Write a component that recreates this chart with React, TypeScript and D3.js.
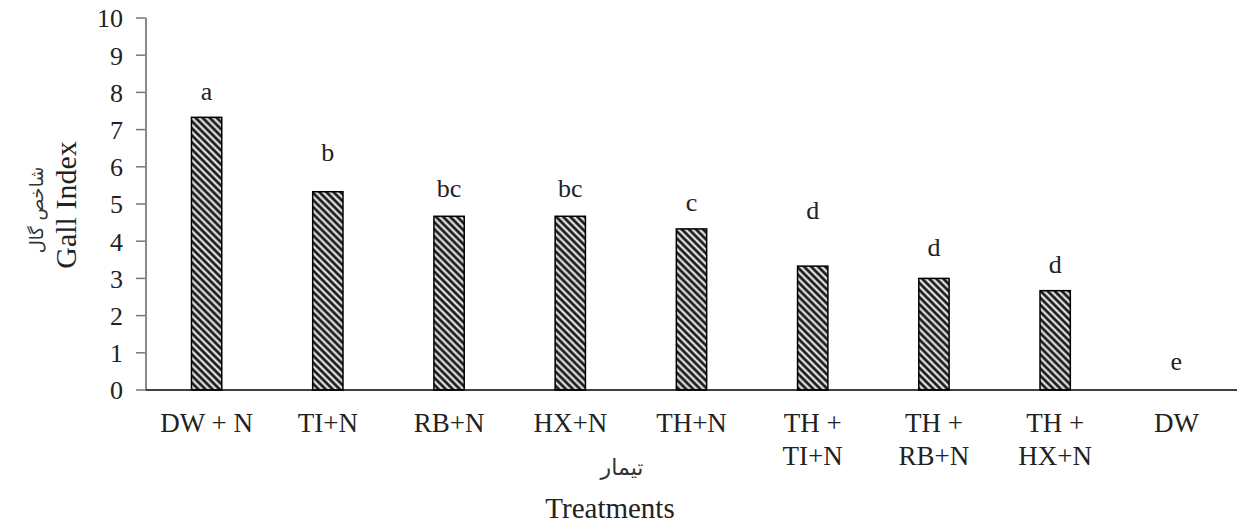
import React from 'react'
import * as d3 from 'd3'

const width = 1239
const height = 523

const categories = ['DW + N', 'TI+N', 'RB+N', 'HX+N', 'TH+N', 'TH +\nTI+N', 'TH +\nRB+N', 'TH +\nHX+N', 'DW']
const gallIndex = [7.33, 5.33, 4.67, 4.67, 4.33, 3.33, 3.0, 2.67, 0]
const letters = ['a', 'b', 'bc', 'bc', 'c', 'd', 'd', 'd', 'e']
// where the letters sit, in axis units
const letterAt = [7.8, 6.15, 5.2, 5.2, 4.8, 4.6, 3.6, 3.15, 0.55]
const yTicks = [0, 1, 2, 3, 4, 5, 6, 7, 8, 9, 10]

const left = 146
const right = 1237
const top = 18
const bottom = 390

const x = d3.scaleBand<string>().domain(categories).range([left, right]).paddingInner(0.75).paddingOuter(0.375)
const y = d3.scaleLinear().domain([0, 10]).range([bottom, top])

const font = '"Liberation Serif", "Times New Roman", serif'
const arabic = '"DejaVu Sans", sans-serif'

export default function App() {
  return (
    <svg width={width} height={height} style={{ position: 'absolute', left: 0, top: 0, background: '#fff' }}>
      <defs>
        <pattern id="hatch" width="5" height="5" patternUnits="userSpaceOnUse" patternTransform="rotate(45)">
          <rect width="5" height="5" fill="#1a1a1a" />
          <line x1="0" y1="2.5" x2="5" y2="2.5" stroke="#fff" strokeWidth="2" />
        </pattern>
      </defs>
      <g style={{ fontFamily: font }}>
        {yTicks.map(t => (
          <g key={t}>
            <line x1={left - 10} x2={left} y1={y(t)} y2={y(t)} stroke="#777" strokeWidth={1.5} />
            <text x={123} y={y(t)} dy="0.36em" textAnchor="end" fontSize={26} fill="#222">{t}</text>
          </g>
        ))}
        <line x1={left} x2={left} y1={top} y2={bottom} stroke="#888" strokeWidth={2} />

        {categories.map((c, i) => (
          <g key={c}>
            {gallIndex[i] > 0 && (
              <rect x={x(c)} y={y(gallIndex[i])} width={x.bandwidth()} height={y(0) - y(gallIndex[i])}
                fill="url(#hatch)" stroke="#000" strokeWidth={1.5} />
            )}
            <text x={x(c)! + x.bandwidth() / 2} y={y(letterAt[i])} textAnchor="middle" fontSize={26} fill="#222">{letters[i]}</text>
            {c.split('\n').map((line, j) => (
              <text key={j} x={x(c)! + x.bandwidth() / 2} y={432 + j * 33} textAnchor="middle" fontSize={27} fill="#222">{line}</text>
            ))}
          </g>
        ))}
        <line x1={left} x2={right} y1={bottom} y2={bottom} stroke="#000" strokeWidth={1.5} />

        <g transform={`translate(43,205) rotate(-90)`}>
          <text x={-5} textAnchor="middle" fontSize={18} fill="#333" style={{ fontFamily: arabic }}>شاخص گال</text>
          <text y={33} textAnchor="middle" fontSize={30} fill="#222">Gall Index</text>
        </g>
        <text x={622} y={475} textAnchor="middle" fontSize={22} fill="#333" style={{ fontFamily: arabic }}>تیمار</text>
        <text x={610} y={518} textAnchor="middle" fontSize={29} fill="#222">Treatments</text>
      </g>
    </svg>
  )
}
